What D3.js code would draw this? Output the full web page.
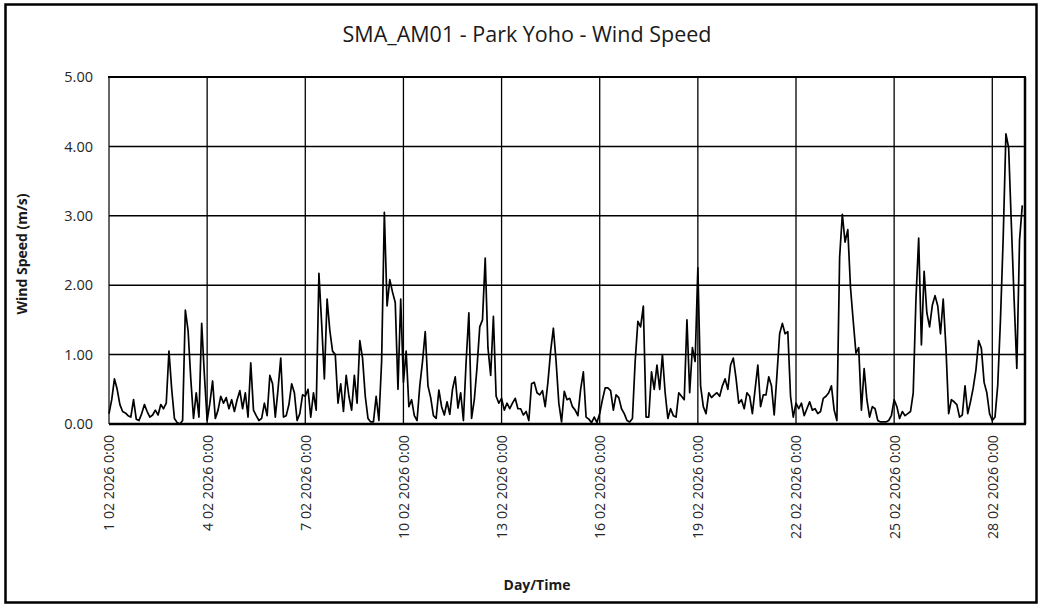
<!DOCTYPE html>
<html>
<head>
<meta charset="utf-8">
<script src="https://cdn.jsdelivr.net/npm/d3@7"></script>
<style>
  body { margin: 0; background: #fff; }
  svg { display: block; }
  text { font-family: "Open Sans", "Liberation Sans", sans-serif; }
</style>
</head>
<body>
<svg id="chart" width="1041" height="605"></svg>
<script>
// Station and labels
const chartTitle = "SMA_AM01 - Park Yoho - Wind Speed";
const yTitle = "Wind Speed (m/s)";
const xTitle = "Day/Time";

// Time base: readings every 2 hours from 1 Feb 2026 0:00
const startTime = new Date(2026, 1, 1, 0, 0);
const endTime = new Date(2026, 2, 1, 0, 0);
const stepHours = 2;

// Wind speed (m/s), one row of 12 readings per day
const week1 = [ // 1–7 Feb
  0.15, 0.35, 0.65, 0.50, 0.28, 0.18, 0.16, 0.12, 0.10, 0.35, 0.07, 0.05,
  0.15, 0.28, 0.18, 0.10, 0.13, 0.20, 0.13, 0.28, 0.22, 0.30, 1.05, 0.50,
  0.08, 0.02, 0.00, 0.05, 1.64, 1.35, 0.65, 0.08, 0.45, 0.10, 1.45, 0.70,
  0.05, 0.30, 0.62, 0.08, 0.20, 0.40, 0.30, 0.38, 0.22, 0.35, 0.18, 0.35,
  0.48, 0.22, 0.45, 0.10, 0.88, 0.20, 0.12, 0.05, 0.08, 0.30, 0.12, 0.70,
  0.58, 0.10, 0.50, 0.95, 0.10, 0.12, 0.28, 0.58, 0.45, 0.05, 0.15, 0.42,
  0.40, 0.50, 0.10, 0.45, 0.20, 2.17, 1.45, 0.65, 1.80, 1.35, 1.05, 1.00
];
const week2 = [ // 8–14 Feb
  0.30, 0.58, 0.18, 0.70, 0.40, 0.20, 0.70, 0.30, 1.20, 0.95, 0.40, 0.08,
  0.03, 0.03, 0.40, 0.05, 0.90, 3.05, 1.70, 2.08, 1.90, 1.75, 0.50, 1.80,
  0.60, 1.05, 0.25, 0.35, 0.12, 0.05, 0.55, 0.90, 1.33, 0.55, 0.38, 0.12,
  0.08, 0.49, 0.25, 0.13, 0.32, 0.14, 0.50, 0.68, 0.23, 0.45, 0.05, 0.90,
  1.60, 0.08, 0.35, 0.82, 1.40, 1.50, 2.39, 1.10, 0.70, 1.55, 0.40, 0.30,
  0.37, 0.20, 0.30, 0.22, 0.30, 0.37, 0.22, 0.22, 0.13, 0.18, 0.05, 0.58,
  0.60, 0.45, 0.42, 0.48, 0.25, 0.60, 1.05, 1.38, 0.90, 0.30, 0.03, 0.47
];
const week3 = [ // 15–21 Feb
  0.35, 0.37, 0.25, 0.20, 0.12, 0.50, 0.75, 0.10, 0.07, 0.02, 0.10, 0.02,
  0.15, 0.35, 0.52, 0.52, 0.48, 0.20, 0.42, 0.38, 0.22, 0.15, 0.05, 0.03,
  0.08, 0.90, 1.48, 1.40, 1.70, 0.10, 0.10, 0.75, 0.50, 0.85, 0.50, 1.00,
  0.45, 0.08, 0.22, 0.12, 0.10, 0.45, 0.40, 0.35, 1.50, 0.45, 1.10, 0.90,
  2.25, 0.55, 0.25, 0.15, 0.45, 0.38, 0.42, 0.45, 0.40, 0.55, 0.65, 0.50,
  0.85, 0.95, 0.66, 0.30, 0.35, 0.22, 0.45, 0.40, 0.15, 0.50, 0.85, 0.25,
  0.42, 0.42, 0.68, 0.55, 0.13, 0.70, 1.30, 1.45, 1.30, 1.33, 0.40, 0.10
];
const week4 = [ // 22–28 Feb
  0.30, 0.22, 0.30, 0.12, 0.22, 0.32, 0.20, 0.22, 0.15, 0.18, 0.37, 0.40,
  0.45, 0.55, 0.20, 0.05, 2.40, 3.02, 2.62, 2.80, 1.96, 1.48, 1.02, 1.10,
  0.20, 0.80, 0.35, 0.10, 0.25, 0.22, 0.05, 0.03, 0.03, 0.03, 0.05, 0.12,
  0.35, 0.25, 0.08, 0.18, 0.12, 0.15, 0.18, 0.45, 1.80, 2.68, 1.14, 2.20,
  1.60, 1.40, 1.71, 1.85, 1.70, 1.30, 1.80, 1.10, 0.15, 0.35, 0.32, 0.28,
  0.10, 0.13, 0.55, 0.15, 0.32, 0.52, 0.78, 1.20, 1.09, 0.60, 0.45, 0.15,
  0.05, 0.10, 0.56, 1.50, 2.68, 4.18, 3.98, 2.87, 1.80, 0.80, 2.65, 3.15
];

// Axis ticks
const yTicks = [0, 1, 2, 3, 4, 5];
const xTickDays = [1, 4, 7, 10, 13, 16, 19, 22, 25, 28];

const values = [].concat(week1, week2, week3, week4);
const series = values.map((v, i) => ({ t: d3.timeHour.offset(startTime, i * stepHours), v }));
const xTickDates = xTickDays.map(d => new Date(2026, 1, d, 0, 0));

const svg = d3.select("#chart");
const W = 1041, H = 605;
const plot = { left: 109, right: 1025, top: 77, bottom: 424 };

const x = d3.scaleTime().domain([startTime, endTime]).range([plot.left, plot.right]);
const y = d3.scaleLinear().domain([0, 5]).range([plot.bottom, plot.top]);

// Background and outer frame
svg.append("rect").attr("width", W).attr("height", H).attr("fill", "#fff");
svg.append("rect")
  .attr("x", 5.5).attr("y", 4.5).attr("width", 1031).attr("height", 598)
  .attr("fill", "none").attr("stroke", "#000").attr("stroke-width", 2.5);

// Title
svg.append("text")
  .attr("x", 527).attr("y", 42)
  .attr("text-anchor", "middle")
  .attr("font-size", 21.5)
  .attr("fill", "#1a1a1a")
  .text(chartTitle);

// Horizontal gridlines
svg.append("g")
  .selectAll("line")
  .data(yTicks.filter(d => d > 0 && d < 5))
  .join("line")
  .attr("x1", plot.left).attr("x2", plot.right)
  .attr("y1", d => y(d)).attr("y2", d => y(d))
  .attr("stroke", "#000").attr("stroke-width", 1.5);

// Vertical gridlines at every third day
svg.append("g")
  .selectAll("line")
  .data(xTickDates.slice(1))
  .join("line")
  .attr("x1", d => x(d)).attr("x2", d => x(d))
  .attr("y1", plot.top).attr("y2", plot.bottom)
  .attr("stroke", "#000").attr("stroke-width", 1.3);

// Plot frame
const frame = svg.append("g").attr("stroke", "#000");
frame.append("line").attr("x1", plot.left).attr("x2", plot.left)
  .attr("y1", plot.top).attr("y2", plot.bottom).attr("stroke-width", 1.2);
frame.append("line").attr("x1", plot.left - 1).attr("x2", plot.right + 1)
  .attr("y1", plot.top).attr("y2", plot.top).attr("stroke-width", 2);
frame.append("line").attr("x1", plot.right).attr("x2", plot.right)
  .attr("y1", plot.top).attr("y2", plot.bottom).attr("stroke-width", 2.5);

// Wind speed line
svg.append("path")
  .datum(series)
  .attr("fill", "none")
  .attr("stroke", "#000")
  .attr("stroke-width", 1.7)
  .attr("stroke-linejoin", "round")
  .attr("d", d3.line().x(d => x(d.t)).y(d => y(d.v)));

// Bottom axis line
svg.append("line")
  .attr("x1", plot.left).attr("x2", plot.right + 1)
  .attr("y1", plot.bottom).attr("y2", plot.bottom)
  .attr("stroke", "#000").attr("stroke-width", 2.6);

// Y axis labels
const yAxis = svg.append("g")
  .attr("transform", `translate(${plot.left},0)`)
  .call(d3.axisLeft(y).tickValues(yTicks).tickSize(0).tickPadding(16).tickFormat(d3.format(".2f")));
yAxis.select(".domain").remove();
yAxis.selectAll("text")
  .attr("font-family", "'Open Sans', sans-serif")
  .attr("font-size", 14.5)
  .attr("fill", "#262626");

// X axis labels, rotated
const fmt = d3.timeFormat("%-d %m %Y %-H:%M");
const xAxis = svg.append("g")
  .attr("transform", `translate(0,${plot.bottom})`)
  .call(d3.axisBottom(x).tickValues(xTickDates).tickSize(0).tickFormat(fmt));
xAxis.select(".domain").remove();
xAxis.selectAll("text")
  .attr("font-family", "'Open Sans', sans-serif")
  .attr("font-size", 14.2)
  .attr("fill", "#262626")
  .attr("transform", "rotate(-90)")
  .attr("text-anchor", "end")
  .attr("x", -11)
  .attr("y", 0)
  .attr("dy", "0.35em");

// Axis titles
svg.append("text")
  .attr("transform", "translate(27,254) rotate(-90)")
  .attr("text-anchor", "middle")
  .attr("font-size", 14)
  .attr("font-weight", "bold")
  .attr("fill", "#1a1a1a")
  .text(yTitle);

svg.append("text")
  .attr("x", 537).attr("y", 590)
  .attr("text-anchor", "middle")
  .attr("font-size", 14)
  .attr("font-weight", "bold")
  .attr("fill", "#1a1a1a")
  .text(xTitle);
</script>
</body>
</html>
